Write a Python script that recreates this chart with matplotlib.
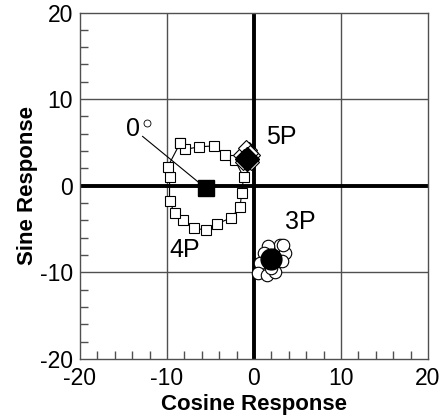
import numpy as np
import matplotlib.pyplot as plt
from matplotlib.ticker import MultipleLocator

plt.rcParams['font.family'] = ['Liberation Sans', 'DejaVu Sans']
plt.rcParams['axes.unicode_minus'] = False

# 4P loop (open squares) and its mean
sq_x = [-8.5, -7.9, -6.3, -4.6, -3.3, -2.2, -1.2, -1.4, -1.6, -2.6, -4.3, -5.5,
        -6.9, -8.2, -9.1, -9.7, -9.7, -9.9, -8.5]
sq_y = [4.9, 4.2, 4.5, 4.6, 3.6, 3.0, 1.0, -0.8, -2.4, -3.7, -4.4, -5.1,
        -4.9, -3.9, -3.2, -1.8, 1.0, 2.2, 4.9]
sq_mean = (-5.55, -0.27)

# 5P cluster (open diamonds) and its mean
dm_x = [-1.3, -0.6, -0.2, -1.5, -0.9, -0.3, -1.1, -0.5]
dm_y = [2.8, 4.1, 3.5, 3.6, 4.4, 2.8, 3.3, 3.8]
dm_mean = (-0.85, 3.1)

# 3P cluster (open circles) and its mean
ci_x = [3.0, 1.6, 1.1, 0.7, 0.5, 1.5, 2.4, 3.6, 3.3, 3.2, 2.0]
ci_y = [-6.8, -7.0, -7.8, -8.9, -10.1, -10.3, -9.9, -7.8, -6.8, -8.7, -9.5]
ci_mean = (2.0, -8.4)

fig = plt.figure(figsize=(4.44, 4.17), dpi=100)
ax = fig.add_axes([0.180, 0.139, 0.784, 0.831])

ax.set_xlim(-20, 20)
ax.set_ylim(-20, 20)

for v in [-10, 10]:
    ax.axvline(v, color='#505050', lw=1, zorder=1)
    ax.axhline(v, color='#505050', lw=1, zorder=1)
ax.axvline(0, color='black', lw=2.8, zorder=1)
ax.axhline(0, color='black', lw=2.8, zorder=1)

ax.plot(sq_x, sq_y, color='black', lw=0.8, marker='s', ms=7.5,
        mfc='white', mec='black', mew=0.8, zorder=3)
ax.plot(*sq_mean, marker='s', ms=11, color='black', zorder=4)

ax.plot(dm_x, dm_y, color='black', lw=0.6, marker='D', ms=8,
        mfc='white', mec='black', mew=0.8, zorder=3)
ax.plot(*dm_mean, marker='D', ms=12, color='black', zorder=4)

ax.plot(ci_x, ci_y, linestyle='none', marker='o', ms=9,
        mfc='white', mec='black', mew=0.8, zorder=3)
ax.plot(*ci_mean, marker='o', ms=15, color='black', zorder=4)

ax.plot([-12.8, sq_mean[0]], [5.7, sq_mean[1]], color='black', lw=0.8, zorder=2)
ax.text(-13.9, 6.6, '0', fontsize=18, ha='center', va='center')
ax.plot(-12.3, 7.3, marker='o', ms=5, mfc='white', mec='black', mew=0.6,
        clip_on=False)

ax.text(1.4, 5.6, '5P', fontsize=18, ha='left', va='center')
ax.text(5.3, -4.2, '3P', fontsize=18, ha='center', va='center')
ax.text(-8.0, -7.4, '4P', fontsize=18, ha='center', va='center')

ax.xaxis.set_major_locator(MultipleLocator(10))
ax.yaxis.set_major_locator(MultipleLocator(10))
ax.xaxis.set_minor_locator(MultipleLocator(2))
ax.yaxis.set_minor_locator(MultipleLocator(2))
ax.tick_params(which='both', direction='in', top=False, right=False,
               color='#505050', labelsize=16.5)
ax.tick_params(which='major', length=0)
ax.tick_params(which='minor', length=6, width=1)
ax.tick_params(axis='x', pad=5.5)
ax.tick_params(axis='y', pad=5)

for s in ax.spines.values():
    s.set_color('#505050')
    s.set_linewidth(1)

ax.set_xlabel('Cosine Response', fontsize=16, fontweight='bold', labelpad=3)
ax.set_ylabel('Sine Response', fontsize=16, fontweight='bold', labelpad=1)

fig.savefig('out.png', dpi=100)
